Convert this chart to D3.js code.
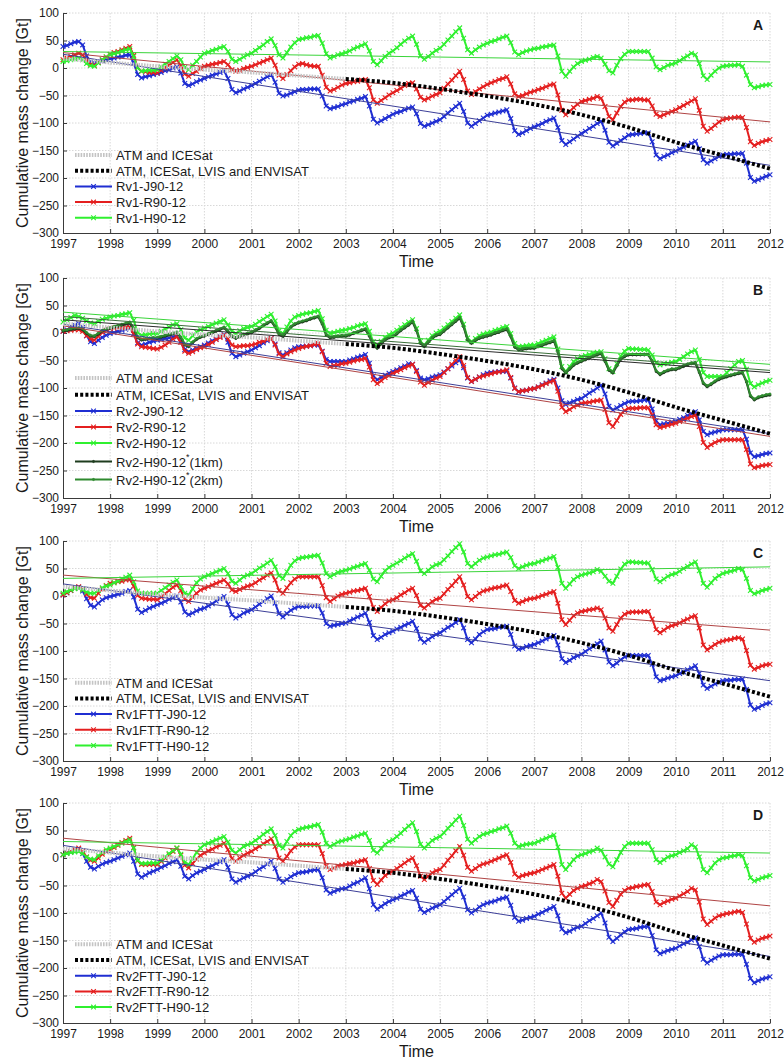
<!DOCTYPE html>
<html>
<head>
<meta charset="utf-8">
<script src="https://cdn.jsdelivr.net/npm/d3@7"></script>
<style>
  body { margin: 0; background: #fff; }
  svg { display: block; }
  text { font-family: "Liberation Sans", Arial, Helvetica, sans-serif; fill: #1a1a1a; }
</style>
</head>
<body>
<svg id="chart" width="784" height="1059"></svg>
<script>
// ---------------------------------------------------------------
// Axis ticks
// ---------------------------------------------------------------
const yearTicks = d3.range(1997, 2013);
const massTicks = [100, 50, 0, -50, -100, -150, -200, -250, -300];

// ---------------------------------------------------------------
// Altimetry reference curves [year, Gt]
// ---------------------------------------------------------------
const atmIcesat = [[1997, 17], [1998, 10], [1999, 3], [2000, -3], [2001, -8], [2002, -14], [2003, -20]];
const atmIcesatLvisEnvisat = [[2003, -20], [2004, -27], [2005, -38], [2006, -51], [2007, -66],
  [2008, -85], [2009, -108], [2010, -135], [2011, -159], [2012, -183]];

// ---------------------------------------------------------------
// Cumulative mass change, monthly (one row per year, 1997..2011, then Jan 2012)
// ---------------------------------------------------------------
// Panel A
const rv1J = [
  39, 41, 44, 47, 48, 42, 22, 11, 9, 11, 13, 15,
  17, 18, 20, 21, 23, 24, 9, -12, -18, -16, -14, -12,
  -10, -8, -5, -3, 0, 2, -9, -28, -32, -29, -25, -22,
  -19, -16, -13, -11, -8, -5, -19, -39, -45, -42, -38, -35,
  -32, -28, -24, -20, -16, -12, -26, -46, -51, -49, -46, -43,
  -40, -39, -39, -38, -38, -38, -51, -69, -74, -72, -70, -67,
  -65, -62, -60, -57, -55, -52, -69, -93, -100, -96, -92, -88,
  -84, -81, -79, -76, -73, -71, -83, -101, -106, -103, -100, -97,
  -94, -88, -82, -76, -70, -64, -79, -100, -106, -101, -96, -91,
  -86, -84, -82, -80, -78, -76, -92, -114, -121, -118, -114, -110,
  -107, -104, -101, -97, -94, -91, -108, -132, -139, -134, -129, -124,
  -119, -115, -110, -106, -101, -97, -113, -135, -142, -137, -132, -127,
  -122, -121, -120, -119, -118, -118, -134, -158, -165, -161, -158, -154,
  -151, -147, -144, -140, -137, -133, -147, -167, -173, -169, -165, -161,
  -158, -157, -157, -156, -156, -155, -173, -199, -206, -203, -200, -197,
  -194];
const rv1R = [
  15, 18, 21, 24, 27, 24, 14, 7, 5, 10, 15, 20,
  25, 28, 30, 33, 36, 39, 23, 1, -6, -7, -8, -8,
  -9, -4, 1, 5, 10, 15, 4, -11, -15, -10, -6, -1,
  3, 5, 7, 8, 10, 12, 6, -3, -6, -4, -1, 1,
  3, 6, 9, 12, 15, 18, 5, -13, -19, -12, -5, 2,
  7, 8, 6, 4, 3, 3, -13, -35, -42, -39, -35, -31,
  -28, -27, -25, -24, -22, -21, -36, -58, -64, -59, -54, -49,
  -45, -41, -37, -32, -28, -27, -38, -53, -58, -55, -51, -48,
  -45, -37, -29, -22, -14, -6, -21, -42, -48, -43, -38, -34,
  -30, -27, -24, -21, -19, -16, -29, -47, -52, -50, -47, -44,
  -42, -39, -37, -34, -31, -29, -49, -77, -85, -79, -72, -66,
  -61, -59, -57, -55, -52, -55, -70, -88, -94, -82, -70, -62,
  -58, -58, -57, -57, -58, -58, -69, -84, -88, -85, -82, -79,
  -76, -72, -68, -64, -60, -56, -77, -106, -115, -110, -104, -98,
  -94, -92, -91, -90, -89, -90, -108, -134, -141, -137, -134, -132,
  -130];
const rv1H = [
  12, 13, 15, 17, 18, 15, 8, 4, 3, 9, 15, 20,
  24, 26, 28, 31, 33, 35, 21, 0, -6, -5, -4, -4,
  -3, 2, 7, 12, 17, 22, 15, 1, -3, 5, 12, 20,
  27, 29, 32, 34, 37, 39, 30, 16, 12, 16, 20, 24,
  27, 32, 37, 42, 48, 53, 41, 24, 18, 28, 38, 46,
  52, 53, 55, 56, 58, 59, 45, 26, 18, 21, 24, 26,
  28, 31, 35, 38, 41, 44, 31, 12, 6, 13, 21, 27,
  31, 37, 43, 49, 54, 58, 43, 22, 16, 21, 27, 32,
  36, 43, 51, 58, 66, 73, 54, 33, 27, 33, 38, 42,
  45, 48, 50, 53, 56, 58, 46, 29, 24, 28, 31, 33,
  35, 36, 38, 39, 41, 42, 22, -6, -15, -6, 2, 8,
  12, 14, 16, 19, 21, 18, 7, -5, -9, 5, 17, 25,
  30, 30, 30, 30, 30, 30, 18, 2, -3, 1, 5, 7,
  9, 13, 18, 22, 27, 24, 8, -14, -21, -13, -6, 0,
  3, 4, 5, 5, 6, 3, -13, -30, -36, -34, -32, -31,
  -30];

// Panel B
const rv2J = [
  3, 6, 10, 14, 17, 10, -5, -16, -19, -13, -8, -4,
  -1, 1, 3, 5, 7, 9, -2, -18, -22, -20, -17, -15,
  -13, -12, -10, -9, -7, -6, -16, -30, -34, -31, -28, -25,
  -22, -18, -14, -11, -7, -3, -17, -37, -43, -40, -37, -34,
  -31, -27, -23, -18, -14, -10, -20, -36, -40, -36, -31, -27,
  -25, -24, -24, -23, -22, -22, -33, -48, -52, -52, -52, -52,
  -52, -49, -47, -44, -42, -39, -55, -78, -85, -81, -77, -73,
  -70, -67, -63, -60, -56, -57, -68, -82, -85, -83, -80, -78,
  -76, -71, -65, -60, -54, -49, -63, -82, -88, -84, -80, -76,
  -73, -72, -71, -70, -70, -69, -82, -100, -107, -105, -104, -102,
  -101, -98, -94, -91, -87, -84, -100, -123, -130, -127, -124, -121,
  -119, -114, -109, -105, -100, -95, -111, -133, -140, -136, -132, -128,
  -125, -124, -124, -123, -122, -122, -138, -160, -167, -165, -164, -162,
  -161, -157, -154, -150, -147, -143, -158, -179, -185, -182, -180, -178,
  -176, -176, -176, -176, -176, -176, -193, -218, -225, -223, -221, -219,
  -218];
const rv2R = [
  3, 4, 5, 6, 6, 3, -5, -11, -13, -6, 1, 5,
  8, 9, 9, 10, 10, 11, -2, -20, -25, -26, -27, -28,
  -29, -26, -22, -17, -11, -7, -17, -33, -37, -34, -30, -27,
  -25, -21, -17, -12, -8, -4, -11, -22, -25, -24, -23, -23,
  -22, -20, -17, -15, -12, -10, -22, -38, -43, -38, -34, -31,
  -28, -26, -24, -23, -21, -19, -34, -55, -61, -59, -58, -56,
  -55, -53, -51, -49, -48, -46, -62, -85, -92, -87, -81, -77,
  -73, -70, -67, -63, -60, -57, -70, -89, -95, -90, -86, -82,
  -79, -72, -65, -57, -50, -43, -59, -81, -88, -84, -80, -78,
  -76, -74, -72, -71, -69, -67, -81, -101, -107, -105, -104, -102,
  -101, -98, -95, -92, -89, -86, -106, -135, -143, -139, -134, -131,
  -128, -127, -126, -124, -123, -122, -139, -163, -170, -159, -148, -141,
  -137, -137, -137, -136, -136, -136, -149, -167, -172, -170, -168, -166,
  -164, -161, -158, -155, -152, -149, -170, -199, -208, -203, -199, -196,
  -194, -194, -194, -194, -194, -194, -212, -238, -245, -243, -241, -240,
  -239];
const rv2H = [
  20, 24, 28, 32, 30, 27, 22, 18, 17, 21, 25, 27,
  29, 31, 32, 34, 35, 37, 23, 1, -4, -3, -2, -1,
  -1, 3, 7, 11, 15, 17, 6, -9, -13, -5, 2, 6,
  9, 12, 15, 18, 21, 24, 15, 3, -1, 4, 8, 10,
  12, 16, 21, 25, 30, 34, 22, 4, -1, 11, 22, 29,
  32, 34, 36, 37, 39, 41, 26, 5, -1, 1, 3, 5,
  6, 8, 10, 13, 15, 17, 3, -16, -22, -15, -8, -3,
  0, 5, 10, 15, 20, 24, 8, -15, -22, -13, -5, 0,
  3, 9, 15, 21, 27, 33, 16, -9, -16, -10, -5, -2,
  0, 2, 5, 7, 10, 12, -1, -19, -25, -24, -23, -22,
  -22, -19, -16, -13, -10, -7, -29, -61, -70, -61, -52, -47,
  -43, -41, -39, -37, -35, -34, -47, -65, -70, -56, -42, -33,
  -28, -29, -29, -30, -30, -31, -40, -54, -58, -56, -55, -53,
  -52, -48, -43, -38, -34, -31, -48, -72, -79, -79, -79, -79,
  -79, -72, -65, -58, -52, -50, -66, -92, -98, -94, -91, -88,
  -86];
const rv2H1km = [
  3, 4, 6, 7, 8, 6, -1, -6, -7, -2, 3, 6,
  8, 10, 12, 14, 16, 18, 7, -9, -13, -12, -11, -10,
  -10, -8, -6, -4, -2, 0, -9, -22, -25, -18, -12, -8,
  -6, -3, 0, 3, 6, 9, 2, -7, -10, -7, -4, -2,
  0, 4, 8, 13, 17, 21, 11, -3, -7, 2, 10, 15,
  18, 20, 22, 25, 27, 29, 16, -4, -9, -8, -7, -6,
  -6, -4, -1, 1, 4, 6, -6, -23, -28, -20, -13, -9,
  -7, -2, 4, 9, 14, 20, 4, -19, -25, -17, -10, -5,
  -3, 3, 9, 15, 21, 27, 11, -13, -19, -14, -10, -8,
  -6, -4, -1, 1, 4, 6, -7, -26, -31, -30, -29, -28,
  -28, -25, -23, -20, -18, -15, -35, -65, -73, -66, -59, -55,
  -52, -49, -46, -43, -40, -38, -52, -68, -73, -60, -48, -43,
  -40, -40, -40, -40, -40, -40, -52, -70, -76, -72, -69, -67,
  -67, -64, -61, -58, -56, -55, -72, -92, -98, -94, -89, -85,
  -82, -80, -78, -76, -74, -73, -89, -115, -122, -118, -116, -114,
  -113];
const rv2H2km = [
  5, 6, 8, 9, 10, 8, 1, -4, -5, 0, 5, 8,
  10, 12, 14, 16, 18, 20, 9, -7, -11, -10, -9, -8,
  -8, -6, -4, -2, 0, 2, -7, -20, -23, -16, -10, -6,
  -4, -1, 2, 5, 8, 11, 4, -5, -8, -5, -2, 0,
  2, 6, 10, 15, 19, 23, 13, -1, -5, 4, 12, 17,
  20, 22, 24, 27, 29, 31, 18, -2, -7, -6, -5, -4,
  -4, -2, 1, 3, 6, 8, -4, -21, -26, -18, -11, -7,
  -5, 0, 6, 11, 16, 22, 6, -17, -23, -15, -8, -3,
  -1, 5, 11, 17, 23, 29, 13, -11, -17, -12, -8, -6,
  -4, -2, 1, 3, 6, 8, -5, -24, -29, -28, -27, -26,
  -26, -23, -21, -18, -16, -13, -33, -63, -71, -64, -57, -53,
  -50, -47, -44, -41, -38, -36, -50, -66, -71, -58, -46, -41,
  -38, -38, -38, -38, -38, -38, -50, -68, -74, -70, -67, -65,
  -65, -62, -59, -56, -54, -53, -70, -90, -96, -92, -87, -83,
  -80, -78, -76, -74, -72, -71, -87, -113, -120, -116, -114, -112,
  -111];

// Panel C
const rv1fJ = [
  2, 6, 10, 14, 16, 9, -5, -17, -20, -13, -7, -3,
  -1, 1, 3, 5, 8, 10, -2, -24, -30, -26, -22, -19,
  -16, -13, -10, -6, -3, 0, -11, -29, -34, -31, -27, -24,
  -22, -18, -14, -9, -5, -1, -15, -34, -40, -36, -31, -28,
  -25, -20, -15, -10, -5, 0, -13, -32, -38, -32, -26, -22,
  -19, -19, -19, -18, -18, -18, -31, -50, -55, -53, -52, -50,
  -49, -45, -42, -38, -35, -31, -48, -72, -79, -75, -70, -67,
  -64, -60, -57, -53, -50, -46, -59, -78, -84, -79, -74, -70,
  -67, -62, -57, -53, -48, -43, -58, -79, -85, -78, -70, -65,
  -61, -60, -59, -57, -56, -55, -70, -91, -97, -95, -92, -90,
  -88, -85, -82, -78, -75, -72, -89, -114, -121, -117, -112, -109,
  -106, -101, -96, -92, -87, -82, -98, -120, -127, -122, -116, -111,
  -108, -108, -108, -108, -108, -108, -124, -147, -154, -152, -149, -147,
  -145, -141, -138, -134, -131, -127, -141, -162, -168, -164, -160, -157,
  -154, -153, -153, -152, -152, -151, -170, -198, -206, -203, -199, -196,
  -194];
const rv1fR = [
  2, 6, 10, 14, 17, 12, 3, -3, -4, 5, 13, 19,
  23, 24, 26, 27, 29, 30, 18, 1, -4, -5, -6, -6,
  -7, -2, 4, 10, 16, 20, 10, -6, -10, -2, 5, 11,
  14, 17, 20, 23, 26, 29, 22, 11, 8, 12, 15, 18,
  20, 24, 29, 33, 38, 42, 29, 10, 5, 15, 24, 31,
  35, 35, 35, 35, 35, 35, 19, -3, -10, -5, 0, 3,
  5, 7, 9, 10, 12, 14, -1, -21, -28, -21, -14, -9,
  -7, -3, 2, 6, 11, 14, 1, -17, -22, -16, -10, -6,
  -4, 4, 12, 19, 27, 35, 20, -1, -7, -1, 5, 9,
  11, 13, 15, 16, 18, 20, 8, -8, -13, -10, -7, -5,
  -4, -2, 1, 3, 6, 8, -13, -43, -52, -44, -36, -31,
  -28, -27, -25, -24, -22, -25, -40, -58, -64, -52, -40, -33,
  -30, -29, -29, -29, -28, -28, -42, -61, -67, -62, -57, -54,
  -52, -49, -45, -42, -38, -36, -58, -89, -98, -93, -88, -84,
  -82, -80, -79, -77, -76, -78, -99, -126, -133, -130, -127, -125,
  -124];
const rv1fH = [
  5, 8, 11, 13, 14, 11, 7, 5, 5, 10, 15, 18,
  20, 24, 27, 31, 34, 38, 26, 9, 5, 5, 5, 5,
  5, 10, 15, 20, 25, 29, 17, 5, 2, 13, 24, 31,
  35, 38, 41, 44, 47, 50, 41, 27, 23, 29, 35, 38,
  41, 46, 51, 55, 60, 65, 53, 37, 32, 44, 56, 64,
  68, 70, 71, 72, 73, 74, 60, 41, 35, 39, 43, 45,
  47, 49, 52, 54, 57, 59, 47, 31, 26, 36, 46, 52,
  56, 60, 64, 69, 73, 77, 63, 46, 41, 47, 53, 57,
  59, 66, 73, 81, 88, 95, 80, 59, 53, 59, 65, 69,
  71, 73, 75, 76, 78, 80, 70, 55, 50, 53, 56, 58,
  59, 62, 64, 67, 69, 72, 52, 23, 14, 22, 30, 35,
  38, 40, 42, 44, 48, 45, 36, 27, 23, 36, 49, 58,
  62, 62, 61, 61, 60, 60, 48, 31, 26, 31, 36, 39,
  41, 45, 50, 54, 58, 62, 46, 23, 16, 24, 32, 37,
  41, 43, 45, 47, 50, 48, 32, 10, 4, 7, 10, 12,
  14];

// Panel D
const rv2fJ = [
  6, 9, 11, 14, 15, 8, -6, -17, -20, -15, -11, -8,
  -6, -3, 0, 3, 6, 9, -6, -29, -35, -31, -27, -24,
  -21, -17, -14, -10, -7, -3, -15, -33, -38, -32, -27, -24,
  -21, -17, -14, -10, -7, -3, -17, -38, -44, -40, -36, -33,
  -30, -25, -20, -16, -11, -6, -19, -38, -44, -39, -34, -30,
  -27, -26, -25, -23, -22, -21, -36, -58, -64, -61, -58, -56,
  -55, -51, -47, -44, -40, -36, -56, -85, -93, -88, -83, -79,
  -76, -73, -69, -66, -62, -59, -73, -93, -99, -95, -91, -88,
  -85, -79, -73, -67, -61, -55, -71, -94, -100, -95, -89, -85,
  -82, -80, -78, -75, -73, -71, -86, -108, -115, -113, -110, -108,
  -106, -102, -99, -95, -92, -88, -105, -129, -136, -133, -129, -126,
  -124, -119, -114, -110, -105, -100, -118, -144, -152, -146, -140, -134,
  -130, -129, -128, -126, -125, -124, -141, -167, -174, -171, -168, -166,
  -164, -160, -156, -153, -149, -145, -161, -184, -191, -186, -182, -178,
  -176, -176, -176, -175, -175, -175, -193, -219, -227, -223, -220, -218,
  -216];
const rv2fR = [
  6, 9, 12, 15, 18, 12, 2, -4, -6, 0, 7, 12,
  15, 19, 23, 28, 32, 36, 19, -5, -12, -12, -12, -12,
  -12, -6, 0, 6, 12, 18, 5, -13, -18, -10, -2, 5,
  9, 13, 16, 20, 23, 27, 15, -1, -6, 0, 5, 9,
  12, 17, 21, 26, 30, 35, 21, 0, -6, 3, 13, 20,
  24, 24, 24, 24, 24, 24, 8, -15, -21, -18, -15, -13,
  -12, -10, -9, -7, -5, -3, -19, -41, -48, -40, -32, -27,
  -24, -19, -14, -9, -4, 0, -14, -33, -39, -33, -27, -23,
  -21, -13, -4, 4, 13, 21, 5, -17, -24, -19, -14, -11,
  -9, -6, -3, 0, 3, 6, -8, -29, -35, -32, -30, -28,
  -27, -24, -21, -18, -15, -12, -33, -64, -73, -66, -59, -55,
  -52, -50, -47, -44, -39, -43, -60, -81, -88, -77, -66, -59,
  -55, -54, -52, -51, -49, -48, -61, -80, -85, -81, -78, -75,
  -73, -69, -65, -61, -55, -58, -80, -111, -121, -115, -109, -105,
  -103, -101, -100, -98, -97, -99, -120, -146, -153, -149, -146, -144,
  -142];
const rv2fH = [
  6, 8, 10, 11, 12, 8, 2, -2, -3, 4, 10, 15,
  18, 21, 24, 27, 30, 33, 18, -4, -10, -10, -9, -9,
  -9, -4, 2, 8, 13, 18, 7, -8, -12, -1, 10, 18,
  24, 27, 30, 33, 36, 39, 29, 14, 9, 15, 21, 24,
  27, 32, 37, 43, 48, 53, 41, 23, 18, 30, 41, 48,
  52, 54, 56, 57, 59, 61, 47, 27, 21, 25, 29, 31,
  33, 35, 38, 40, 43, 45, 32, 14, 9, 17, 25, 30,
  33, 39, 45, 52, 58, 64, 48, 25, 18, 25, 32, 36,
  39, 46, 54, 61, 69, 76, 59, 34, 27, 33, 39, 43,
  45, 48, 50, 53, 55, 58, 45, 27, 21, 23, 25, 26,
  27, 30, 33, 36, 39, 42, 20, -12, -21, -12, -3, 3,
  6, 8, 11, 13, 18, 14, 2, -11, -16, -3, 10, 21,
  27, 27, 27, 27, 27, 27, 15, -3, -8, -3, 2, 4,
  6, 10, 13, 17, 24, 20, 2, -21, -27, -18, -9, -3,
  0, 1, 3, 4, 6, 4, -14, -36, -42, -39, -36, -34,
  -32];

// Linear trend end values [Gt at 1997, Gt at 2012]
const trendRv1 = { J: [25, -177], R: [28, -98], H: [30, 11] };
const trendRv2 = { J: [16, -183], R: [13, -188], H: [38, -57], H1: [24, -72], H2: [30, -68] };
const trendRv1f = { J: [22, -154], R: [38, -62], H: [32, 53] };
const trendRv2f = { J: [23, -179], R: [36, -87], H: [30, 9] };

// ---------------------------------------------------------------
// Styling
// ---------------------------------------------------------------
const colors = {
  J: "#1f2ed2", R: "#e41f1f", H: "#2ff02f", H1: "#1e3c1e", H2: "#2f8a2f",
  tJ: "#3c3f98", tR: "#b04444", tH: "#3ad43a", tH1: "#2b2b2b", tH2: "#3a6f3a",
  atm: "#c4c4c4", atm2: "#000000", grid: "#d8d8d8"
};

const W = 784, H = 1059;
const plotL = 63, plotR = 770, plotH = 220;

const svg = d3.select("#chart");
svg.append("rect").attr("width", W).attr("height", H).attr("fill", "#fff");

const x = d3.scaleLinear().domain([1997, 2012]).range([plotL, plotR]);
const monthYear = i => 1997 + i / 12;

const panels = [
  { tag: "A", top: 13,
    series: [
      { name: "Rv1-J90-12", vals: rv1J, color: colors.J, trend: trendRv1.J, tcolor: colors.tJ, mark: "x" },
      { name: "Rv1-R90-12", vals: rv1R, color: colors.R, trend: trendRv1.R, tcolor: colors.tR, mark: "x" },
      { name: "Rv1-H90-12", vals: rv1H, color: colors.H, trend: trendRv1.H, tcolor: colors.tH, mark: "x" } ],
    legendRows: [142, 157.7, 173.4, 189.1, 204.8] },
  { tag: "B", top: 278,
    series: [
      { name: "Rv2-J90-12", vals: rv2J, color: colors.J, trend: trendRv2.J, tcolor: colors.tJ, mark: "x" },
      { name: "Rv2-R90-12", vals: rv2R, color: colors.R, trend: trendRv2.R, tcolor: colors.tR, mark: "x" },
      { name: "Rv2-H90-12", vals: rv2H, color: colors.H, trend: trendRv2.H, tcolor: colors.tH, mark: "x" },
      { name: "Rv2-H90-12", sup: "*", suffix: "(1km)", vals: rv2H1km, color: colors.H1, trend: trendRv2.H1, tcolor: colors.tH1, mark: "dot" },
      { name: "Rv2-H90-12", sup: "*", suffix: "(2km)", vals: rv2H2km, color: colors.H2, trend: trendRv2.H2, tcolor: colors.tH2, mark: "dot" } ],
    legendRows: [100, 116.7, 133, 149, 165, 183.5, 201.5] },
  { tag: "C", top: 541,
    series: [
      { name: "Rv1FTT-J90-12", vals: rv1fJ, color: colors.J, trend: trendRv1f.J, tcolor: colors.tJ, mark: "x" },
      { name: "Rv1FTT-R90-12", vals: rv1fR, color: colors.R, trend: trendRv1f.R, tcolor: colors.tR, mark: "x" },
      { name: "Rv1FTT-H90-12", vals: rv1fH, color: colors.H, trend: trendRv1f.H, tcolor: colors.tH, mark: "x" } ],
    legendRows: [141.7, 157.4, 173.1, 188.8, 204.5] },
  { tag: "D", top: 803,
    series: [
      { name: "Rv2FTT-J90-12", vals: rv2fJ, color: colors.J, trend: trendRv2f.J, tcolor: colors.tJ, mark: "x" },
      { name: "Rv2FTT-R90-12", vals: rv2fR, color: colors.R, trend: trendRv2f.R, tcolor: colors.tR, mark: "x" },
      { name: "Rv2FTT-H90-12", vals: rv2fH, color: colors.H, trend: trendRv2f.H, tcolor: colors.tH, mark: "x" } ],
    legendRows: [141.3, 157, 172.7, 188.4, 204.1] }
];

const xMark = d3.symbol().type(d3.symbolX).size(16);
const dotMark = d3.symbol().type(d3.symbolCircle).size(4);

function drawMarkers(g, pts, color, kind) {
  g.selectAll(null).data(pts).join("path")
    .attr("transform", d => `translate(${d[0]},${d[1]})`)
    .attr("d", kind === "dot" ? dotMark() : xMark())
    .attr("fill", kind === "dot" ? color : "none")
    .attr("stroke", color).attr("stroke-width", kind === "dot" ? 0.6 : 1.1);
}

panels.forEach(p => {
  const y = d3.scaleLinear().domain([-300, 100]).range([p.top + plotH, p.top]);
  const g = svg.append("g");

  // grid
  const grid = g.append("g").attr("stroke", colors.grid).attr("stroke-width", 1)
    .attr("stroke-dasharray", "1.5,1.5").attr("fill", "none");
  grid.selectAll(null).data(yearTicks.slice(1)).join("line")
    .attr("x1", d => x(d)).attr("x2", d => x(d)).attr("y1", y(100)).attr("y2", y(-300));
  grid.selectAll(null).data(massTicks.slice(0, -1)).join("line")
    .attr("x1", plotL).attr("x2", plotR).attr("y1", d => y(d)).attr("y2", d => y(d));

  // axes (ticks point inward)
  const xAxis = d3.axisBottom(x).tickValues(yearTicks).tickFormat(d3.format("d"))
    .tickSizeInner(-4).tickSizeOuter(0).tickPadding(6);
  const gx = g.append("g").attr("transform", `translate(0,${y(-300)})`).call(xAxis);
  gx.select(".domain").attr("stroke", "#3a3a3a");
  gx.selectAll(".tick line").attr("stroke", "#3a3a3a");
  gx.selectAll("text").attr("font-size", 12).attr("fill", "#1a1a1a")
    .attr("font-family", '"Liberation Sans", Arial, sans-serif');

  const yAxis = d3.axisLeft(y).tickValues(massTicks).tickFormat(d3.format("d"))
    .tickSizeInner(-4).tickSizeOuter(0).tickPadding(4);
  const gy = g.append("g").attr("transform", `translate(${plotL},0)`).call(yAxis);
  gy.select(".domain").attr("stroke", "#3a3a3a");
  gy.selectAll(".tick line").attr("stroke", "#3a3a3a");
  gy.selectAll("text").attr("font-size", 12).attr("fill", "#1a1a1a")
    .attr("font-family", '"Liberation Sans", Arial, sans-serif');

  // axis titles
  g.append("text").attr("x", (plotL + plotR) / 2).attr("y", y(-300) + 34)
    .attr("text-anchor", "middle").attr("font-size", 16).text("Time");
  g.append("text")
    .attr("transform", `translate(22,${p.top + plotH / 2}) rotate(-90)`)
    .attr("text-anchor", "middle").attr("dominant-baseline", "central")
    .attr("font-size", 16).text("Cumulative mass change [Gt]");

  // panel tag
  g.append("text").attr("x", 758).attr("y", p.top + 17).attr("text-anchor", "middle")
    .attr("font-size", 14).attr("font-weight", "bold").text(p.tag);

  const plot = g.append("g");
  const line = d3.line().x(d => x(d[0])).y(d => y(d[1]));

  // series
  p.series.forEach(s => {
    const pts = s.vals.map((v, i) => [monthYear(i), v]);
    plot.append("path").datum(pts).attr("d", line).attr("fill", "none")
      .attr("stroke", s.color).attr("stroke-width", 2).attr("stroke-linejoin", "round");
    drawMarkers(plot.append("g"), pts.map(d => [x(d[0]), y(d[1])]), s.color, s.mark);
  });

  // linear trends
  p.series.forEach(s => {
    plot.append("path").datum([[1997, s.trend[0]], [2012, s.trend[1]]]).attr("d", line)
      .attr("fill", "none").attr("stroke", s.tcolor).attr("stroke-width", 1);
  });

  // altimetry references
  const smooth = d3.line().x(d => x(d[0])).y(d => y(d[1])).curve(d3.curveMonotoneX);
  plot.append("path").datum(atmIcesat).attr("d", smooth).attr("fill", "none")
    .attr("stroke", colors.atm).attr("stroke-width", 4).attr("stroke-dasharray", "1.6,1.2");
  plot.append("path").datum(atmIcesatLvisEnvisat).attr("d", smooth).attr("fill", "none")
    .attr("stroke", colors.atm2).attr("stroke-width", 4).attr("stroke-dasharray", "3,2.2");

  // legend
  const lg = g.append("g");
  const lx0 = 75, lx1 = 112, ltx = 116;
  const entries = [
    { label: "ATM and ICESat", color: colors.atm, dash: "1.6,1.2", w: 4 },
    { label: "ATM, ICESat, LVIS and ENVISAT", color: colors.atm2, dash: "3,2.2", w: 4 }
  ].concat(p.series.map(s => ({ label: s.name, sup: s.sup, suffix: s.suffix, color: s.color, w: 2, mark: s.mark })));
  entries.forEach((e, i) => {
    const ry = p.top + p.legendRows[i];
    lg.append("line").attr("x1", lx0).attr("x2", lx1).attr("y1", ry).attr("y2", ry)
      .attr("stroke", e.color).attr("stroke-width", e.w)
      .attr("stroke-dasharray", e.dash || null);
    if (e.mark) drawMarkers(lg.append("g"), [[(lx0 + lx1) / 2, ry]], e.color, e.mark);
    const t = lg.append("text").attr("x", ltx).attr("y", ry).attr("dominant-baseline", "central")
      .attr("font-size", 13);
    t.append("tspan").text(e.label);
    if (e.sup) {
      t.append("tspan").attr("font-size", 9).attr("dy", -5).text(e.sup);
      t.append("tspan").attr("font-size", 13).attr("dy", 5).text(e.suffix);
    }
  });
});
</script>
</body>
</html>
